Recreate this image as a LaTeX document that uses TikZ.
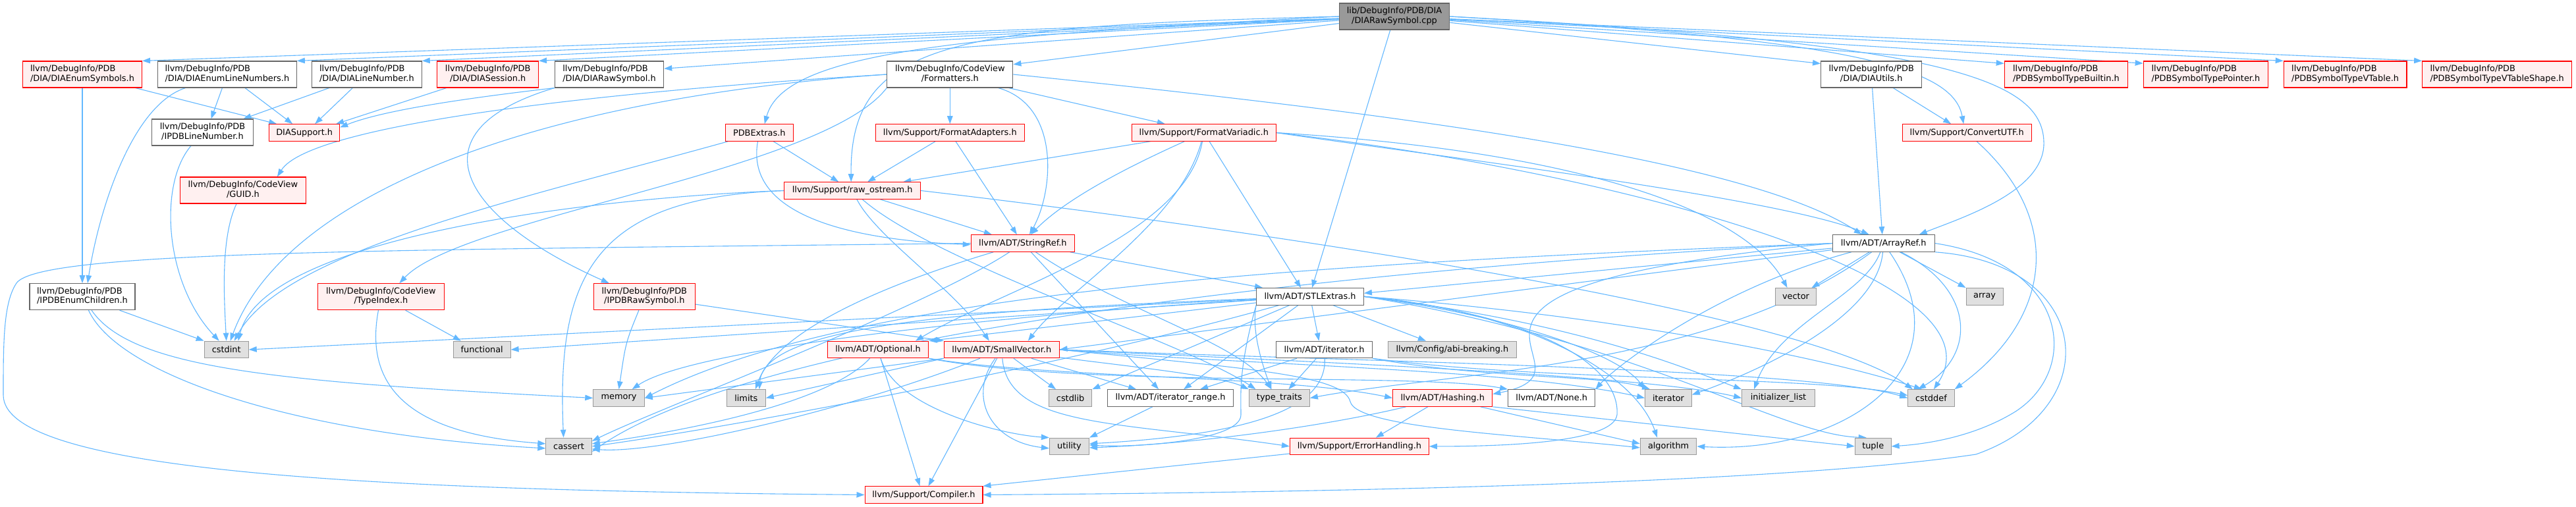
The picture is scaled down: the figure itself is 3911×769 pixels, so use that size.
\documentclass[tikz,border=0pt]{standalone}
\usepackage{fontspec}
\setmainfont{DejaVu Sans}
\usetikzlibrary{arrows.meta}
\definecolor{edgec}{HTML}{63B8FF}
\definecolor{redfill}{HTML}{FFF0F0}
\definecolor{grayb}{HTML}{666666}
\definecolor{leafb}{HTML}{999999}
\definecolor{leaff}{HTML}{E0E0E0}
\definecolor{mainf}{HTML}{999999}
\newcommand{\twoline}[2]{\begin{tabular}{@{}l@{}}#1\\\multicolumn{1}{@{}c@{}}{#2}\end{tabular}}
\pgfdeclarelayer{bg}
\pgfsetlayers{bg,main}
\tikzset{
  nbox/.style={rectangle, inner sep=0pt, line width=1.1pt, font=\fontsize{12.9}{14.7}\selectfont, text=black},
  rnode/.style={nbox, draw=red, fill=redfill},
  gnode/.style={nbox, draw=grayb, fill=white},
  lnode/.style={nbox, draw=leafb, fill=leaff},
  mnode/.style={nbox, draw=grayb, fill=mainf},
  tw/.style={minimum height=40pt},
  on/.style={minimum height=25.5pt},
  edg/.style={draw=edgec, line width=1.1pt, -{Triangle[length=12pt,width=8.5pt]}},
}
\begin{document}
\begin{tikzpicture}[x=1pt,y=-1pt]
\useasboundingbox (0,0) rectangle (3911,769);
% ---- nodes
\node[mnode,tw,minimum width=167.5pt] (M) at (2117,25) {\twoline{lib/DebugInfo/PDB/DIA}{/DIARawSymbol.cpp}};
% row 1
\node[rnode,tw,minimum width=181pt] (DES) at (125,113) {\twoline{llvm/DebugInfo/PDB}{/DIA/DIAEnumSymbols.h}};
\node[gnode,tw,minimum width=210.8pt] (DELN) at (344.9,113) {\twoline{llvm/DebugInfo/PDB}{/DIA/DIAEnumLineNumbers.h}};
\node[gnode,tw,minimum width=166.7pt] (DLN) at (556.9,113) {\twoline{llvm/DebugInfo/PDB}{/DIA/DIALineNumber.h}};
\node[rnode,tw,minimum width=153.6pt] (DSess) at (740.7,113) {\twoline{llvm/DebugInfo/PDB}{/DIA/DIASession.h}};
\node[gnode,tw,minimum width=165.4pt] (DRSH) at (925,113) {\twoline{llvm/DebugInfo/PDB}{/DIA/DIARawSymbol.h}};
\node[gnode,tw,minimum width=191.1pt] (FMT) at (1442.3,113) {\twoline{llvm/DebugInfo/CodeView}{/Formatters.h}};
\node[gnode,tw,minimum width=153.2pt] (DUT) at (2841.2,113) {\twoline{llvm/DebugInfo/PDB}{/DIA/DIAUtils.h}};
\node[rnode,tw,minimum width=187.3pt] (PTB) at (3136.9,113) {\twoline{llvm/DebugInfo/PDB}{/PDBSymbolTypeBuiltin.h}};
\node[rnode,tw,minimum width=189.4pt] (PTP) at (3348.9,113) {\twoline{llvm/DebugInfo/PDB}{/PDBSymbolTypePointer.h}};
\node[rnode,tw,minimum width=186.8pt] (PTV) at (3560.6,113) {\twoline{llvm/DebugInfo/PDB}{/PDBSymbolTypeVTable.h}};
\node[rnode,tw,minimum width=226.9pt] (PTVS) at (3791.1,113) {\twoline{llvm/DebugInfo/PDB}{/PDBSymbolTypeVTableShape.h}};
% row 2
\node[gnode,tw,minimum width=153.7pt] (IPLN) at (307.5,201) {\twoline{llvm/DebugInfo/PDB}{/IPDBLineNumber.h}};
\node[rnode,on,minimum width=106.9pt] (DSup) at (462.2,201.5) {DIASupport.h};
\node[rnode,on,minimum width=103.1pt] (PX) at (1152.8,201.5) {PDBExtras.h};
\node[rnode,on,minimum width=225.6pt] (FA) at (1442.3,201.5) {llvm/Support/FormatAdapters.h};
\node[rnode,on,minimum width=218.8pt] (FV) at (1827.8,201.5) {llvm/Support/FormatVariadic.h};
\node[rnode,on,minimum width=195.7pt] (CUTF) at (2986.2,201.5) {llvm/Support/ConvertUTF.h};
% row 3
\node[rnode,tw,minimum width=190.6pt] (GUID) at (368.9,289) {\twoline{llvm/DebugInfo/CodeView}{/GUID.h}};
\node[rnode,on,minimum width=206.8pt] (RO) at (1294.2,289.5) {llvm/Support/raw\_ostream.h};
% row 4
\node[rnode,on,minimum width=157.4pt] (SR) at (1552.9,369.5) {llvm/ADT/StringRef.h};
\node[gnode,on,minimum width=154.9pt] (AR) at (2859.7,369.5) {llvm/ADT/ArrayRef.h};
% row 5
\node[gnode,tw,minimum width=160pt] (IEC) at (125,450.7) {\twoline{llvm/DebugInfo/PDB}{/IPDBEnumChildren.h}};
\node[rnode,tw,minimum width=191.3pt] (TI) at (578.4,450.7) {\twoline{llvm/DebugInfo/CodeView}{/TypeIndex.h}};
\node[rnode,tw,minimum width=154pt] (IRS) at (978.3,450.7) {\twoline{llvm/DebugInfo/PDB}{/IPDBRawSymbol.h}};
\node[gnode,on,minimum width=162.7pt] (STL) at (1989,450.3) {llvm/ADT/STLExtras.h};
\node[lnode,on,minimum width=62.7pt] (VEC) at (2726.5,450.3) {vector};
\node[lnode,on,minimum width=56pt] (ARR) at (3013.1,450.3) {array};
% row 6
\node[lnode,on,minimum width=66.9pt] (CI) at (343.7,531) {cstdint};
\node[lnode,on,minimum width=86.7pt] (FUN) at (731.7,531) {functional};
\node[rnode,on,minimum width=153.7pt] (OPT) at (1333,531) {llvm/ADT/Optional.h};
\node[rnode,on,minimum width=174.7pt] (SV) at (1520.8,531) {llvm/ADT/SmallVector.h};
\node[gnode,on,minimum width=145.8pt] (ITH) at (2010.5,531) {llvm/ADT/iterator.h};
\node[lnode,on,minimum width=194.9pt] (ABI) at (2204.9,531) {llvm/Config/abi-breaking.h};
% row 7
\node[lnode,on,minimum width=77.5pt] (MEM) at (939.6,604.5) {memory};
\node[lnode,on,minimum width=58.9pt] (LIM) at (1132.8,604.5) {limits};
\node[lnode,on,minimum width=65.2pt] (CSL) at (1625.1,604.5) {cstdlib};
\node[gnode,on,minimum width=190.7pt] (IR) at (1777.1,604.5) {llvm/ADT/iterator\_range.h};
\node[lnode,on,minimum width=91.9pt] (TT) at (1942.4,604.5) {type\_traits};
\node[rnode,on,minimum width=151.1pt] (HSH) at (2190.2,604.5) {llvm/ADT/Hashing.h};
\node[gnode,on,minimum width=132.2pt] (NON) at (2355.7,604.5) {llvm/ADT/None.h};
\node[lnode,on,minimum width=70.7pt] (ITR) at (2533,604.5) {iterator};
\node[lnode,on,minimum width=110.7pt] (IL) at (2700,604.5) {initializer\_list};
\node[lnode,on,minimum width=70.3pt] (CSD) at (2931.9,604.5) {cstddef};
% row 8
\node[lnode,on,minimum width=69.4pt] (CA) at (863.6,677.9) {cassert};
\node[lnode,on,minimum width=60.1pt] (UT) at (1623.5,677.9) {utility};
\node[rnode,on,minimum width=210.9pt] (EH) at (2063.9,677.9) {llvm/Support/ErrorHandling.h};
\node[lnode,on,minimum width=85.4pt] (ALG) at (2533.1,677.9) {algorithm};
\node[lnode,on,minimum width=54.7pt] (TUP) at (2843.7,677.9) {tuple};
% row 9
\node[rnode,on,minimum width=178.9pt] (CMP) at (1402.5,751.5) {llvm/Support/Compiler.h};

\begin{pgfonlayer}{bg}
\fill[white] (0,0) rectangle (3911,769);
% main
\draw[edg] (M) -- (DES.north east);
\draw[edg] (M) -- (DELN.north east);
\draw[edg] (M) -- (DLN.north east);
\draw[edg] (M) -- (DSess.north east);
\draw[edg] (M) -- (DRSH.6);
\draw[edg] (M) -- (FMT.9);
\draw[edg] (M) -- (DUT.168);
\draw[edg] (M) -- (PTB.170);
\draw[edg] (M) -- (PTP.170);
\draw[edg] (M) -- (PTV.north west);
\draw[edg] (M) -- (PTVS.north west);
\draw[edg] (M) -- ([xshift=3pt]STL.north);
\draw[edg] (M.east) .. controls (2800,60) and (2965,100) .. ([xshift=-5pt]CUTF.north);
\draw[edg] (M.east) .. controls (2950,65) and (3100,120) .. (3103,215) .. controls (3106,290) and (2980,330) .. ([xshift=-24pt]AR.north east);
\draw[edg] (M.west) .. controls (1450,55) and (1190,80) .. ([xshift=8pt]PX.north);
\draw[edg] (M.west) .. controls (1450,40) and (1290,60) .. ([xshift=-2pt]RO.north);
% DIA
\draw[edg] (DES) -- ([xshift=12pt]DSup.north west);
\draw[edg] (DES) -- (IEC);
\draw[edg] (DELN) .. controls (200,160) and (150,320) .. ([xshift=8pt]IEC.north);
\draw[edg] (DELN) -- ([xshift=13pt]IPLN.north);
\draw[edg] (DELN) -- ([xshift=-18pt]DSup.north);
\draw[edg] (DLN) -- ([xshift=62pt]IPLN.north);
\draw[edg] (DLN) -- ([xshift=16pt]DSup.north);
\draw[edg] (DSess) -- ([xshift=-6pt]DSup.north east);
\draw[edg] (DRSH.south west) .. controls (700,150) and (580,168) .. ([yshift=8pt]DSup.east);
\draw[edg] (DRSH.south west) .. controls (620,200) and (700,330) .. ([xshift=24pt]IRS.north west);
% cstdint
\draw[edg] (IPLN) .. controls (240,280) and (250,430) .. ([xshift=-11pt]CI.north);
\draw[edg] (GUID) .. controls (335,360) and (340,450) .. (CI.north);
\draw[edg] (FMT.west) .. controls (800,150) and (430,300) .. ([xshift=6pt]CI.north);
\draw[edg] (PX) .. controls (800,300) and (430,380) .. ([xshift=12pt]CI.north);
\draw[edg] (RO.west) .. controls (900,300) and (400,360) .. ([xshift=18pt]CI.north);
\draw[edg] (IEC) -- (CI.north west);
\draw[edg] (STL) -- (CI.east);
% TypeIndex
\draw[edg] (TI) -- ([xshift=12pt]FUN.north west);
\draw[edg] (TI) .. controls (550,600) and (640,660) .. ([yshift=4pt]CA.west);
\draw[edg] (FMT.south west) .. controls (1250,260) and (700,330) .. ([xshift=28pt]TI.north);
% IPDBEnumChildren
\draw[edg] (IEC) .. controls (200,560) and (420,580) .. (MEM.west);
\draw[edg] (IEC) .. controls (180,570) and (450,660) .. ([yshift=-3pt]CA.west);
% IPDBRawSymbol
\draw[edg] (IRS) .. controls (950,520) .. (MEM.north);
\draw[edg] (IRS) -- (SV.north west);
% Formatters
\draw[edg] (FMT) -- (FA);
\draw[edg] (FMT) -- ([xshift=-59pt]FV.north);
\draw[edg] (FMT) .. controls (1610,160) and (1600,290) .. ([xshift=10pt]SR.north);
\draw[edg] (FMT.east) .. controls (2100,170) and (2650,240) .. ([xshift=-33pt]AR.north);
\draw[edg] (FMT.west) .. controls (900,140) and (470,190) .. ([xshift=52pt]GUID.north);
% FormatAdapters
\draw[edg] (FA) -- ([xshift=23pt]RO.north);
\draw[edg] (FA) -- ([xshift=-9pt]SR.north);
% FormatVariadic
\draw[edg] (FV) -- ([xshift=77pt]RO.north);
\draw[edg] (FV) .. controls (1720,250) and (1620,300) .. ([xshift=12pt]SR.north);
\draw[edg] (FV) .. controls (1800,360) and (1520,440) .. ([xshift=57pt]OPT.north);
\draw[edg] (FV) .. controls (1790,340) and (1620,440) .. ([xshift=40pt]SV.north);
\draw[edg] (FV) -- ([xshift=-14pt]STL.north);
\draw[edg] (FV.east) .. controls (2200,240) and (2700,300) .. ([xshift=-22pt]AR.north);
\draw[edg] (FV.east) .. controls (2400,230) and (2650,320) .. ([xshift=-13pt]VEC.north);
\draw[edg] (FV.east) .. controls (2450,260) and (3050,420) .. ([xshift=4pt]CSD.north);
% PDBExtras
\draw[edg] (PX) -- ([xshift=-21pt]RO.north);
\draw[edg] (PX) .. controls (1130,330) and (1300,365) .. ([yshift=-2pt]SR.west);
% raw_ostream
\draw[edg] (RO) -- ([xshift=-47pt]SR.north);
\draw[edg] (RO) .. controls (1330,360) and (1450,440) .. ([xshift=-19pt]SV.north);
\draw[edg] (RO) .. controls (1420,400) and (1800,520) .. ([xshift=-36pt]TT.north);
\draw[edg] (RO.east) .. controls (2000,360) and (2750,480) .. ([xshift=-28pt]CSD.north);
\draw[edg] (RO.west) .. controls (900,300) and (845,420) .. ([xshift=-8pt]CA.north);
% StringRef
\draw[edg] (SR.west) .. controls (600,380) and (60,380) .. (25,430) .. controls (5,460) and (5,520) .. (5,600) .. controls (5,720) and (600,745) .. (CMP.west);
\draw[edg] (SR) -- ([xshift=-72pt]STL.north);
\draw[edg] (SR) -- ([xshift=-18pt]IR.north);
\draw[edg] (SR) .. controls (1350,430) and (1180,500) .. ([xshift=14pt]LIM.north);
\draw[edg] (SR) .. controls (1400,470) and (1000,620) .. ([yshift=8pt]CA.east);
\draw[edg] (SR) .. controls (1700,470) and (1880,520) .. ([xshift=-12pt]TT.north);
% ArrayRef
\draw[edg] (AR) -- ([yshift=5pt]STL.east);
\draw[edg] (AR.west) .. controls (2050,440) and (2460,560) .. ([yshift=6pt]HSH.east);
\draw[edg] (AR) .. controls (2600,440) and (2450,560) .. (NON.north east);
\draw[edg] (AR) -- (SV.east);
\draw[edg] (AR.south east) .. controls (3180,400) and (3200,620) .. (3000,690) .. controls (2700,735) and (2000,748) .. (CMP.east);
\draw[edg] (AR.east) .. controls (3140,400) and (3160,560) .. (3060,625) .. controls (3000,662) and (2930,674) .. (TUP.east);
\draw[edg] (AR) .. controls (3000,440) and (3000,540) .. ([xshift=-20pt]CSD.north);
\draw[edg] (AR) -- (ARR.north west);
\draw[edg] (AR) -- ([xshift=24pt]VEC.north);
\draw[edg] (AR) .. controls (2830,450) and (2700,490) .. ([xshift=-37pt]IL.north);
\draw[edg] (AR) .. controls (2850,480) and (2680,560) .. ([yshift=5pt]ITR.east);
\draw[edg] (AR) .. controls (2990,560) and (2800,690) .. (ALG.east);
\draw[edg] (AR.west) .. controls (2000,400) and (1300,440) .. (MEM.east);
\draw[edg] (AR.west) .. controls (2000,410) and (1150,510) .. ([yshift=-8pt]CA.east);
\draw[edg] (AR) .. controls (2600,560) and (2200,565) .. (TT.east);
% STLExtras
\draw[edg] (STL) -- (OPT.north east);
\draw[edg] (STL) -- ([xshift=-8pt]ITH.north);
\draw[edg] (STL) -- ([xshift=20pt]IR.north);
\draw[edg] (STL) -- ([xshift=-40pt]ABI.north);
\draw[edg] (STL) -- (CSL.north east);
\draw[edg] (STL) -- (FUN.east);
\draw[edg] (STL) .. controls (1500,480) and (1050,530) .. ([xshift=20pt]MEM.north);
\draw[edg] (STL) .. controls (1500,470) and (1160,490) .. ([xshift=20pt]LIM.north);
\draw[edg] (STL) .. controls (1600,560) and (1100,650) .. (CA.east);
\draw[edg] (STL.south west) .. controls (1900,500) and (1915,550) .. ([xshift=-12pt]TT.north);
\draw[edg] (STL.south west) .. controls (1880,560) and (1884,600) .. (1884,630) .. controls (1884,670) and (1720,680) .. ([yshift=2pt]UT.east);
\draw[edg] (STL.east) .. controls (2300,470) and (2480,560) .. ([xshift=-17pt]ALG.north);
\draw[edg] (STL.east) .. controls (2300,480) and (2460,540) .. (ITR.north west);
\draw[edg] (STL.east) .. controls (2400,490) and (2560,560) .. (IL.north west);
\draw[edg] (STL.east) .. controls (2450,480) and (2760,540) .. ([xshift=-14pt]CSD.north);
\draw[edg] (STL.east) .. controls (2500,520) and (2700,660) .. ([xshift=-10pt]TUP.north);
\draw[edg] (STL.east) .. controls (2350,480) and (2460,560) .. (2455,630) .. controls (2450,670) and (2300,678) .. (EH.east);
% Optional
\draw[edg] (OPT.south east) .. controls (1600,575) and (1950,570) .. (HSH.west);
\draw[edg] (OPT.south east) .. controls (1650,590) and (2150,565) .. (NON.north west);
\draw[edg] (OPT) -- ([xshift=-6pt]CMP.north);
\draw[edg] (OPT) .. controls (1250,620) and (1000,660) .. ([yshift=4pt]CA.east);
\draw[edg] (OPT) .. controls (1360,620) and (1520,660) .. (UT.north west);
% SmallVector
\draw[edg] (SV) -- ([xshift=-52pt]IR.north);
\draw[edg] (SV) -- ([xshift=7pt]CMP.north);
\draw[edg] (SV) .. controls (1530,650) and (1700,640) .. (EH.west);
\draw[edg] (SV) -- ([xshift=-22pt]CSL.north);
\draw[edg] (SV) .. controls (1470,600) and (1500,670) .. ([yshift=-3pt]UT.west);
\draw[edg] (SV.south west) -- (MEM.east);
\draw[edg] (SV.south west) -- (LIM.east);
\draw[edg] (SV) .. controls (1300,620) and (1000,690) .. ([yshift=-4pt]CA.east);
\draw[edg] (SV) .. controls (1700,555) and (1850,570) .. (TT.north west);
\draw[edg] (SV.east) .. controls (1900,560) and (2040,570) .. (2050,610) .. controls (2060,650) and (2300,660) .. ([yshift=-2pt]ALG.west);
\draw[edg] (SV.east) .. controls (1900,555) and (2300,560) .. (ITR.west);
\draw[edg] (SV.east) .. controls (2000,550) and (2500,570) .. (IL.west);
\draw[edg] (SV.east) .. controls (2100,550) and (2750,560) .. (CSD.west);
% iterator.h
\draw[edg] (ITH) -- ([xshift=45pt]IR.north);
\draw[edg] (ITH) -- ([xshift=14pt]TT.north);
\draw[edg] (ITH) .. controls (2015,620) and (1900,660) .. ([yshift=4pt]UT.east);
\draw[edg] (ITH.south east) .. controls (2250,575) and (2440,570) .. ([xshift=8pt]ITR.north west);
\draw[edg] (ITH.south east) .. controls (2350,580) and (2750,570) .. ([yshift=4pt]CSD.west);
% iterator_range
\draw[edg] (IR) -- (UT.north east);
% Hashing
\draw[edg] (HSH) -- ([xshift=25pt]EH.north);
\draw[edg] (HSH) -- ([yshift=4pt]ALG.west);
\draw[edg] (HSH.south east) -- (TUP.west);
\draw[edg] (HSH) .. controls (2000,650) and (1800,675) .. ([yshift=-2pt]UT.east);
% ErrorHandling
\draw[edg] (EH) -- (CMP.north east);
% DIAUtils
\draw[edg] (DUT) -- ([xshift=-24pt]CUTF.north);
\draw[edg] (DUT) -- ([xshift=-2pt]AR.north);
% ConvertUTF
\draw[edg] (CUTF) .. controls (3130,330) and (3120,480) .. (CSD.north east);
\end{pgfonlayer}
\end{tikzpicture}
\end{document}
